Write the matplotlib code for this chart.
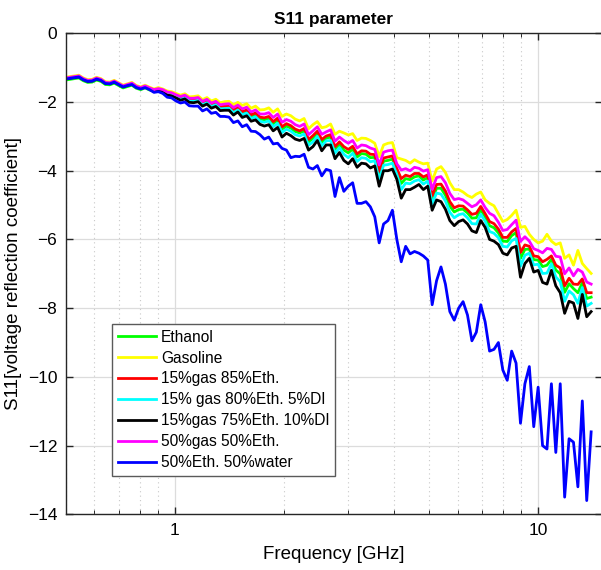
import numpy as np
import matplotlib
matplotlib.use('Agg')
import matplotlib.pyplot as plt
from matplotlib.ticker import LogLocator, NullFormatter, FixedLocator, FixedFormatter

plt.rcParams['font.family'] = ['Liberation Sans', 'DejaVu Sans']

#%% data
freq = np.geomspace(0.5, 14, 120)   # GHz

ethanol = [-1.36,-1.34,-1.32,-1.30,-1.38,-1.43,-1.42,-1.36,-1.40,-1.49,
           -1.50,-1.45,-1.52,-1.59,-1.55,-1.51,-1.60,-1.64,-1.59,-1.65,
           -1.67,-1.64,-1.67,-1.75,-1.77,-1.83,-1.89,-1.85,-1.95,-1.95,
           -1.93,-2.05,-1.99,-2.10,-2.05,-2.16,-2.15,-2.14,-2.27,-2.18,
           -2.32,-2.27,-2.42,-2.37,-2.49,-2.52,-2.47,-2.63,-2.53,-2.79,
           -2.70,-2.76,-2.86,-2.90,-2.84,-3.16,-3.06,-2.91,-3.17,-3.05,
           -3.02,-3.38,-3.23,-3.40,-3.48,-3.37,-3.60,-3.50,-3.52,-3.62,
           -3.61,-4.12,-3.72,-3.70,-3.66,-4.01,-4.37,-4.23,-4.26,-4.18,
           -4.15,-4.27,-4.20,-4.83,-4.51,-4.51,-4.71,-5.03,-5.20,-5.13,
           -5.12,-5.23,-5.38,-5.37,-5.13,-5.35,-5.60,-5.66,-5.81,-6.05,
           -6.06,-5.89,-5.80,-6.55,-6.29,-6.28,-6.59,-6.60,-6.79,-6.75,
           -6.58,-6.89,-7.00,-7.54,-7.29,-7.43,-7.55,-7.26,-7.72,-7.68]

gasoline = [-1.28,-1.26,-1.24,-1.22,-1.30,-1.35,-1.34,-1.28,-1.32,-1.41,
            -1.42,-1.37,-1.44,-1.51,-1.47,-1.43,-1.52,-1.56,-1.51,-1.57,
            -1.62,-1.58,-1.62,-1.68,-1.70,-1.75,-1.80,-1.76,-1.85,-1.84,
            -1.82,-1.93,-1.87,-1.97,-1.92,-2.02,-1.99,-1.98,-2.08,-2.01,
            -2.10,-2.05,-2.18,-2.12,-2.23,-2.22,-2.17,-2.30,-2.20,-2.42,
            -2.35,-2.40,-2.50,-2.55,-2.48,-2.78,-2.66,-2.57,-2.75,-2.72,
            -2.64,-2.94,-2.85,-2.90,-2.96,-2.92,-3.12,-3.05,-3.06,-3.12,
            -3.20,-3.59,-3.25,-3.20,-3.18,-3.62,-3.66,-3.70,-3.78,-3.68,
            -3.75,-3.80,-3.78,-4.30,-3.95,-3.88,-4.05,-4.35,-4.55,-4.55,
            -4.62,-4.72,-4.78,-4.68,-4.62,-4.85,-4.95,-5.02,-5.25,-5.48,
            -5.42,-5.30,-5.15,-5.65,-5.62,-5.85,-6.00,-6.10,-6.05,-5.85,
            -6.05,-6.15,-6.10,-6.55,-6.45,-6.75,-6.32,-6.70,-6.85,-6.99]

gas15_eth85 = [-1.32,-1.30,-1.28,-1.26,-1.34,-1.39,-1.38,-1.32,-1.36,-1.45,
               -1.46,-1.41,-1.48,-1.55,-1.51,-1.47,-1.56,-1.60,-1.55,-1.61,
               -1.66,-1.63,-1.66,-1.74,-1.76,-1.82,-1.88,-1.84,-1.93,-1.93,
               -1.91,-2.03,-1.97,-2.08,-2.03,-2.14,-2.12,-2.11,-2.23,-2.15,
               -2.28,-2.23,-2.37,-2.32,-2.44,-2.46,-2.42,-2.57,-2.47,-2.72,
               -2.63,-2.69,-2.79,-2.84,-2.77,-3.09,-2.98,-2.85,-3.09,-2.99,
               -2.95,-3.30,-3.16,-3.30,-3.38,-3.29,-3.51,-3.42,-3.43,-3.52,
               -3.53,-4.02,-3.63,-3.60,-3.57,-3.94,-4.23,-4.13,-4.17,-4.08,
               -4.08,-4.18,-4.12,-4.73,-4.40,-4.39,-4.59,-4.90,-5.08,-5.02,
               -5.03,-5.14,-5.27,-5.24,-5.04,-5.25,-5.48,-5.54,-5.70,-5.94,
               -5.94,-5.78,-5.68,-6.38,-6.16,-6.20,-6.48,-6.50,-6.65,-6.58,
               -6.48,-6.75,-6.83,-7.35,-7.13,-7.30,-7.31,-7.15,-7.55,-7.55]

gas15_eth80_di5 = [-1.33,-1.31,-1.29,-1.27,-1.35,-1.40,-1.39,-1.33,-1.37,-1.46,
                   -1.47,-1.42,-1.49,-1.56,-1.52,-1.48,-1.57,-1.61,-1.56,-1.62,
                   -1.68,-1.65,-1.68,-1.77,-1.79,-1.85,-1.92,-1.88,-1.97,-1.98,
                   -1.95,-2.08,-2.02,-2.13,-2.08,-2.20,-2.19,-2.18,-2.31,-2.23,
                   -2.37,-2.32,-2.48,-2.43,-2.56,-2.59,-2.55,-2.72,-2.62,-2.89,
                   -2.79,-2.85,-2.95,-2.99,-2.93,-3.26,-3.16,-3.00,-3.27,-3.13,
                   -3.12,-3.49,-3.33,-3.52,-3.62,-3.49,-3.73,-3.62,-3.64,-3.74,
                   -3.71,-4.26,-3.84,-3.82,-3.78,-4.11,-4.55,-4.36,-4.38,-4.30,
                   -4.26,-4.39,-4.30,-4.96,-4.65,-4.68,-4.88,-5.21,-5.37,-5.28,
                   -5.25,-5.37,-5.54,-5.55,-5.27,-5.47,-5.77,-5.82,-5.95,-6.20,
                   -6.22,-6.04,-5.97,-6.78,-6.46,-6.40,-6.74,-6.72,-6.99,-6.98,
                   -6.71,-7.09,-7.23,-7.80,-7.50,-7.61,-7.86,-7.40,-7.94,-7.86]

gas15_eth75_di10 = [-1.33,-1.31,-1.29,-1.27,-1.35,-1.40,-1.39,-1.33,-1.37,-1.46,
                    -1.47,-1.42,-1.49,-1.56,-1.52,-1.48,-1.57,-1.61,-1.56,-1.62,
                    -1.70,-1.67,-1.70,-1.80,-1.82,-1.88,-1.95,-1.91,-2.01,-2.02,
                    -1.99,-2.12,-2.06,-2.18,-2.13,-2.25,-2.24,-2.24,-2.38,-2.29,
                    -2.45,-2.40,-2.56,-2.52,-2.65,-2.70,-2.66,-2.84,-2.74,-3.02,
                    -2.91,-2.98,-3.08,-3.12,-3.06,-3.40,-3.30,-3.12,-3.42,-3.25,
                    -3.25,-3.65,-3.47,-3.70,-3.80,-3.65,-3.90,-3.78,-3.80,-3.92,
                    -3.86,-4.45,-4.00,-4.00,-3.95,-4.25,-4.80,-4.55,-4.55,-4.48,
                    -4.40,-4.55,-4.45,-5.15,-4.85,-4.90,-5.12,-5.45,-5.60,-5.48,
                    -5.43,-5.55,-5.75,-5.80,-5.45,-5.65,-6.00,-6.05,-6.15,-6.40,
                    -6.45,-6.25,-6.20,-7.10,-6.70,-6.55,-6.95,-6.90,-7.25,-7.30,
                    -6.90,-7.35,-7.55,-8.15,-7.80,-7.85,-8.30,-7.60,-8.25,-8.10]

gas50_eth50 = [-1.30,-1.28,-1.26,-1.24,-1.32,-1.37,-1.36,-1.30,-1.34,-1.43,
               -1.44,-1.39,-1.46,-1.53,-1.49,-1.45,-1.54,-1.58,-1.53,-1.59,
               -1.64,-1.61,-1.64,-1.71,-1.73,-1.79,-1.84,-1.80,-1.89,-1.89,
               -1.87,-1.98,-1.92,-2.03,-1.98,-2.08,-2.06,-2.05,-2.16,-2.09,
               -2.20,-2.15,-2.29,-2.23,-2.35,-2.35,-2.31,-2.45,-2.35,-2.59,
               -2.51,-2.56,-2.66,-2.71,-2.64,-2.95,-2.84,-2.72,-2.94,-2.87,
               -2.81,-3.14,-3.02,-3.12,-3.20,-3.12,-3.34,-3.25,-3.27,-3.34,
               -3.38,-3.83,-3.46,-3.42,-3.40,-3.80,-3.98,-3.94,-4.00,-3.90,
               -3.93,-4.01,-3.97,-4.54,-4.20,-4.17,-4.35,-4.66,-4.84,-4.81,
               -4.85,-4.95,-5.05,-4.99,-4.85,-5.07,-5.24,-5.31,-5.50,-5.74,
               -5.71,-5.57,-5.44,-6.06,-5.92,-6.05,-6.27,-6.32,-6.39,-6.26,
               -6.29,-6.49,-6.51,-7.00,-6.83,-7.06,-6.87,-6.95,-7.24,-7.30]

eth50_water50 = [-1.33,-1.31,-1.29,-1.27,-1.35,-1.40,-1.39,-1.33,-1.37,-1.46,
                 -1.47,-1.42,-1.49,-1.56,-1.52,-1.49,-1.58,-1.62,-1.58,-1.64,
                 -1.72,-1.70,-1.75,-1.86,-1.88,-1.97,-2.03,-2.00,-2.11,-2.12,
                 -2.12,-2.26,-2.20,-2.33,-2.30,-2.42,-2.42,-2.44,-2.60,-2.55,
                 -2.72,-2.66,-2.85,-2.86,-2.95,-3.08,-3.02,-3.22,-3.20,-3.35,
                 -3.40,-3.62,-3.58,-3.59,-3.52,-3.90,-3.95,-3.85,-4.15,-3.96,
                 -4.00,-4.75,-4.20,-4.60,-4.45,-4.35,-4.95,-4.95,-4.90,-5.05,
                 -5.34,-6.10,-5.55,-5.45,-5.15,-6.00,-6.65,-6.20,-6.42,-6.35,
                 -6.40,-6.48,-6.60,-7.90,-7.20,-6.80,-7.30,-8.10,-8.35,-8.00,
                 -7.81,-8.20,-8.95,-8.70,-7.90,-8.40,-9.25,-9.20,-9.00,-9.80,
                 -10.10,-9.25,-9.60,-11.35,-10.20,-9.70,-11.45,-10.30,-12.00,-12.10,
                 -10.20,-12.20,-10.20,-13.50,-11.80,-11.90,-13.20,-10.70,-13.60,-11.60]

series = [ethanol, gasoline, gas15_eth85, gas15_eth80_di5,
          gas15_eth75_di10, gas50_eth50, eth50_water50]
labels = ['Ethanol', 'Gasoline', '15%gas 85%Eth.', '15% gas 80%Eth. 5%DI',
          '15%gas 75%Eth. 10%DI', '50%gas 50%Eth.', '50%Eth. 50%water']
colors = ['#00ff00', '#ffff00', '#ff0000', '#00ffff', '#000000', '#ff00ff', '#0000ff']

#%% plot
fig = plt.figure(figsize=(6.01, 5.70), dpi=100)
ax = fig.add_axes([0.1092, 0.0977, 0.8925, 0.8439])

for s, lab, c in zip(series, labels, colors):
    ax.semilogx(freq, s, '-', color=c, lw=2.0, label=lab)

ax.set_xlim(0.5, 15)
ax.set_ylim(-14, 0)
ax.set_yticks(np.arange(-14, 1, 2))
ax.xaxis.set_major_locator(FixedLocator([1, 10]))
ax.xaxis.set_major_formatter(FixedFormatter(['1', '10']))
ax.xaxis.set_minor_locator(LogLocator(base=10, subs=np.arange(2, 10)))
ax.xaxis.set_minor_formatter(NullFormatter())

ax.grid(True, which='major', color='#dcdcdc', lw=0.9, ls='-')
ax.grid(True, which='minor', axis='x', color='#c8c8c8', lw=0.8, ls=(0, (1, 3)))
ax.set_axisbelow(True)

ax.tick_params(which='both', direction='in', top=True, right=True,
               labelsize=12.5, colors='#262626', labelcolor='black')
ax.tick_params(which='major', length=5, width=1, pad=6)
ax.tick_params(which='minor', length=3, width=0.7)
for sp in ax.spines.values():
    sp.set_color('#262626')
    sp.set_linewidth(1.0)

ax.set_xlabel('Frequency [GHz]', fontsize=13.5, labelpad=6)
ax.set_ylabel('S11[voltage reflection coefficient]', fontsize=13.5, labelpad=4)
ax.set_title('S11 parameter', fontsize=12.5, fontweight='bold', pad=7)

leg = ax.legend(loc='upper left', bbox_to_anchor=(0.0865, 0.3956), borderaxespad=0,
                fontsize=11.2, frameon=True, fancybox=False, edgecolor='#5a5a5a',
                framealpha=1, handlelength=2.45, handletextpad=0.33,
                labelspacing=0.38, borderpad=0.36)
leg.get_frame().set_linewidth(1.0)

fig.savefig('out.png', dpi=100)
